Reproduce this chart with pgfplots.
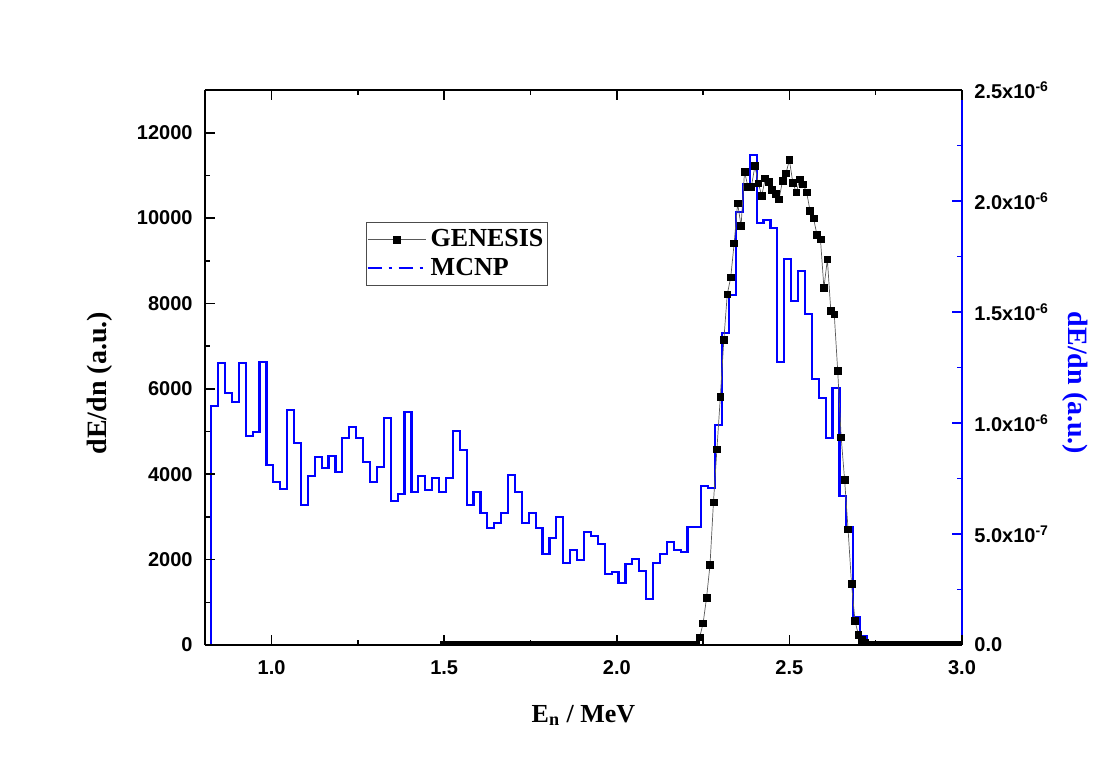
\documentclass[border=0pt]{standalone}
\usepackage{pgfplots}
\pgfplotsset{compat=1.18}
\usepackage{fontspec}
\setmainfont{Liberation Serif}
\newfontfamily\arialfont{Liberation Sans}
\newcommand\tickfont{\arialfont\bfseries\fontsize{10}{12}\selectfont}
\newcommand\labelfont{\bfseries\fontsize{14}{16}\selectfont}
\pgfplotsset{
  genesis legend/.style={legend image code/.code={\draw[mark repeat=2, mark phase=2, ##1] plot coordinates {(0pt,0pt) (14.5pt,0pt) (29pt,0pt)};}},
  mcnp legend/.style={legend image code/.code={\draw[blue, line width=1pt, dash pattern=on 7pt off 3.5pt on 1.5pt off 3.5pt] (0pt,0pt) -- (29pt,0pt);}},
}
\begin{document}
\begin{tikzpicture}
% ---------- right axis: MCNP (blue histogram) ----------
\begin{axis}[
  scale only axis, width=378.5pt, height=277.5pt,
  xmin=0.807, xmax=3.0, ymin=0, ymax=2.5e-6,
  axis x line=none,
  axis y line*=right,
  y axis line style={blue, line width=1pt},
  ytick={0,0.5e-6,1e-6,1.5e-6,2e-6,2.5e-6},
  yticklabels={0.0,5.0x10\textsuperscript{-7},1.0x10\textsuperscript{-6},1.5x10\textsuperscript{-6},2.0x10\textsuperscript{-6},2.5x10\textsuperscript{-6}},
  minor y tick num=1,
  scaled y ticks=false,
  tick align=inside,
  major tick length=5pt, minor tick length=2.5pt,
  ytick style={blue, line width=0.8pt},
  yticklabel style={font=\tickfont, inner sep=0pt, xshift=6pt, anchor=west},
  ylabel={dE/dn (a.u.)},
  ylabel style={font=\labelfont, text=blue, at={(axis description cs:1.149,0.472)}, anchor=center, rotate=180},
]
\addplot[blue, line width=1.1pt, const plot] coordinates {
(0.825,0)
(0.825,1.0766e-6)(0.845,1.2703e-6)(0.865,1.1351e-6)(0.885,1.0946e-6)(0.905,1.2703e-6)
(0.925,0.9414e-6)(0.945,0.9595e-6)(0.965,1.2748e-6)(0.985,0.8108e-6)(1.005,0.7342e-6)
(1.025,0.7027e-6)(1.045,1.0586e-6)(1.065,0.9099e-6)(1.085,0.6306e-6)(1.105,0.7613e-6)
(1.125,0.8468e-6)(1.145,0.7973e-6)(1.165,0.8514e-6)(1.185,0.7793e-6)(1.205,0.9324e-6)
(1.225,0.9820e-6)(1.245,0.9324e-6)(1.265,0.8243e-6)(1.285,0.7342e-6)(1.305,0.8018e-6)
(1.325,1.0225e-6)(1.345,0.6486e-6)(1.365,0.6802e-6)(1.385,1.0495e-6)(1.405,0.6892e-6)
(1.425,0.7613e-6)(1.445,0.6982e-6)(1.465,0.7523e-6)(1.485,0.6892e-6)(1.505,0.7523e-6)
(1.525,0.9640e-6)(1.545,0.8784e-6)(1.565,0.6306e-6)(1.585,0.6892e-6)(1.605,0.5946e-6)
(1.625,0.5270e-6)(1.645,0.5495e-6)(1.665,0.5946e-6)(1.685,0.7658e-6)(1.705,0.6892e-6)
(1.725,0.5495e-6)(1.745,0.5946e-6)(1.765,0.5270e-6)(1.785,0.4099e-6)(1.805,0.4820e-6)
(1.825,0.5766e-6)(1.845,0.3694e-6)(1.865,0.4279e-6)(1.885,0.3829e-6)(1.905,0.5090e-6)
(1.925,0.4910e-6)(1.945,0.4550e-6)(1.965,0.3198e-6)(1.985,0.3288e-6)(2.005,0.2793e-6)
(2.025,0.3649e-6)(2.045,0.3874e-6)(2.065,0.3333e-6)(2.085,0.2072e-6)(2.105,0.3694e-6)
(2.125,0.4099e-6)(2.145,0.4640e-6)(2.165,0.4279e-6)(2.185,0.4189e-6)(2.205,0.5315e-6)
(2.225,0.5315e-6)(2.245,0.7162e-6)(2.265,0.7072e-6)(2.285,0.9910e-6)(2.305,1.4054e-6)
(2.325,1.5766e-6)(2.345,1.9505e-6)(2.365,2.0766e-6)(2.385,2.2072e-6)(2.405,1.9009e-6)
(2.425,1.9144e-6)(2.445,1.8784e-6)(2.465,1.2748e-6)(2.485,1.7387e-6)(2.505,1.5495e-6)
(2.525,1.6847e-6)(2.545,1.4910e-6)(2.565,1.1982e-6)(2.585,1.1126e-6)(2.605,0.9324e-6)
(2.625,1.1577e-6)(2.645,0.6712e-6)(2.665,0.5315e-6)(2.685,0.1261e-6)(2.705,0.0405e-6)
(2.725,0)(3.0,0)
};
\end{axis}
% ---------- left axis: GENESIS ----------
\begin{axis}[
  scale only axis, width=378.5pt, height=277.5pt,
  xmin=0.807, xmax=3.0, ymin=0, ymax=13000,
  axis y line*=left,
  axis line style={line width=1pt},
  xtick={1,1.5,2,2.5,3}, xticklabels={1.0,1.5,2.0,2.5,3.0},
  minor x tick num=1,
  ytick={0,2000,4000,6000,8000,10000,12000},
  yticklabels={0,2000,4000,6000,8000,10000,12000},
  scaled y ticks=false, scaled x ticks=false,
  minor y tick num=1,
  tick align=inside,
  major tick length=5pt, minor tick length=2.5pt,
  tick style={black, line width=0.8pt},
  xticklabel style={font=\tickfont, inner sep=0pt, yshift=-7.5pt},
  yticklabel style={font=\tickfont, inner sep=0pt, xshift=-6pt},
  xlabel={E\textsubscript{n} / MeV},
  xlabel style={font=\bfseries\fontsize{13}{15}\selectfont, at={(axis description cs:0.5,-0.1387)}, anchor=base},
  ylabel={dE/dn (a.u.)},
  ylabel style={font=\labelfont, at={(axis description cs:-0.1387,0.472)}, anchor=center},
  clip marker paths=true,
  legend cell align=left,
  legend style={at={(rel axis cs:0.213,0.762)}, anchor=north west,
    draw=black!70, line width=0.5pt, font=\bfseries\fontsize{13}{15}\selectfont,
    inner xsep=0pt, inner ysep=1.5pt, row sep=0pt},
]
\addplot[gray!70!black, line width=0.35pt, mark=square*, mark size=1.7pt,
  mark options={solid, fill=black, draw=black}, genesis legend]
coordinates {
(1.50,0)(1.51,0)(1.52,0)(1.53,0)(1.54,0)(1.55,0)(1.56,0)(1.57,0)(1.58,0)(1.59,0)
(1.60,0)(1.61,0)(1.62,0)(1.63,0)(1.64,0)(1.65,0)(1.66,0)(1.67,0)(1.68,0)(1.69,0)
(1.70,0)(1.71,0)(1.72,0)(1.73,0)(1.74,0)(1.75,0)(1.76,0)(1.77,0)(1.78,0)(1.79,0)
(1.80,0)(1.81,0)(1.82,0)(1.83,0)(1.84,0)(1.85,0)(1.86,0)(1.87,0)(1.88,0)(1.89,0)
(1.90,0)(1.91,0)(1.92,0)(1.93,0)(1.94,0)(1.95,0)(1.96,0)(1.97,0)(1.98,0)(1.99,0)
(2.00,0)(2.01,0)(2.02,0)(2.03,0)(2.04,0)(2.05,0)(2.06,0)(2.07,0)(2.08,0)(2.09,0)
(2.10,0)(2.11,0)(2.12,0)(2.13,0)(2.14,0)(2.15,0)(2.16,0)(2.17,0)(2.18,0)(2.19,0)
(2.20,0)(2.21,0)(2.22,0)(2.23,0)
(2.24,180)(2.25,508)(2.26,1108)(2.27,1874)(2.28,3342)(2.29,4583)(2.30,5815)
(2.31,7143)(2.32,8213)(2.33,8612)(2.34,9408)(2.35,10345)(2.36,9820)(2.37,11085)
(2.38,10734)(2.39,10734)(2.40,11218)(2.41,10813)(2.42,10523)(2.43,10930)(2.44,10851)
(2.45,10656)(2.46,10562)(2.47,10438)(2.48,10874)(2.49,11047)(2.50,11359)(2.51,10827)
(2.52,10602)(2.53,10907)(2.54,10790)(2.55,10602)(2.56,10164)(2.57,9993)(2.58,9602)
(2.59,9502)(2.60,8368)(2.61,9033)(2.62,7829)(2.63,7745)(2.64,6417)(2.65,4864)
(2.66,3864)(2.67,2710)(2.68,1429)(2.69,569)(2.70,234)(2.71,117)(2.72,47)
(2.73,0)(2.74,0)(2.75,0)(2.76,0)(2.77,0)(2.78,0)(2.79,0)(2.80,0)(2.81,0)(2.82,0)
(2.83,0)(2.84,0)(2.85,0)(2.86,0)(2.87,0)(2.88,0)(2.89,0)(2.90,0)(2.91,0)(2.92,0)
(2.93,0)(2.94,0)(2.95,0)(2.96,0)(2.97,0)(2.98,0)(2.99,0)(3.00,0)
};
\addlegendentry{GENESIS}
\addlegendimage{mcnp legend}
\addlegendentry{MCNP}
\coordinate (bbsw) at (rel axis cs:-0.2708,-0.2234);
\coordinate (bbne) at (rel axis cs:1.1876,1.1622);
\end{axis}
\path (bbsw) rectangle (bbne);
\end{tikzpicture}
\end{document}
